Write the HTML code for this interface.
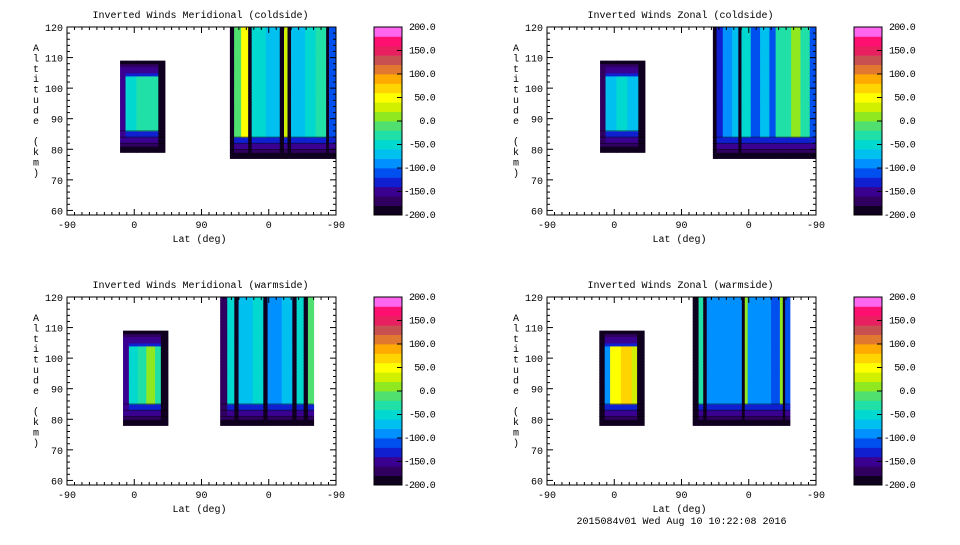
<!DOCTYPE html>
<html><head><meta charset="utf-8"><style>
body{margin:0;background:#fff;width:960px;height:540px;overflow:hidden}
svg text{font-family:"Liberation Mono",monospace;font-size:10px;fill:#000}
svg text.cbl{letter-spacing:-0.8px}
</style></head><body>
<svg id="svg" width="960" height="540"></svg>
<script>
// ---- data ----
const colorBands=["#100020","#300060","#3a0090","#1020d0","#0050f0","#0090ff","#00c0f0","#00d8d0","#20e0a8","#50e070","#90e820","#d0f000","#ffff00","#ffd400","#ffaa00","#e07830","#c85050","#e82060","#ff1070","#ff66f0"];
const cbTicks=[200,150,100,50,0,-50,-100,-150,-200];
const yTicks=[60,70,80,90,100,110,120];
const xTickLabels=["-90","0","90","0","-90"];
const xTickUnits=[0,90,180,270,360];
const bottomRamp=[-195,-185,-172,-160,-148,-135,-122];
const topRamp=[-190,-175,-160,-145,-130];
// panels: blob extents (x units 0..360, alt km), column core values and relative column widths
const tlTitle="Inverted Winds Meridional (coldside)";
const tlBlob1={u0:71,u1:131,a0:79,a1:109,cols:[-150,-50,-40,-30,-200],w:[1,2,2,2,1.2]};
const tlBlob2={u0:218,u1:360,a0:77,a1:120,cols:[-200,-20,40,-200,-60,-80,-200,20,-200,-80,-60,-30,-200,-110],w:[0.6,1,1,0.5,2,2,0.6,0.5,0.5,2,1.5,1.5,0.4,1]};
const trTitle="Inverted Winds Zonal (coldside)";
const trBlob1={u0:71,u1:131,a0:79,a1:109,cols:[-170,-70,-60,-70,-200],w:[1,2,2,2,1.2]};
const trBlob2={u0:222,u1:360,a0:77,a1:120,cols:[-200,-130,-90,-70,-200,-60,-110,-80,-120,-40,-30,10,-40,-110],w:[0.6,1,1.5,1,0.5,1.5,1.5,1.5,1,1.5,1,1.5,1.5,1]};
const blTitle="Inverted Winds Meridional (warmside)";
const blBlob1={u0:75,u1:135,a0:78,a1:109,cols:[-150,-60,-30,10,-40,-200],w:[1,1.5,1.5,1.5,1,1.2]};
const blBlob2={u0:205,u1:330,a0:78,a1:120,cols:[-170,-60,-200,-80,-60,-200,-90,-80,-200,-60,-200,-20],w:[1,1,0.6,2,1.5,0.6,2,1.5,0.6,1,0.6,0.8]};
const brTitle="Inverted Winds Zonal (warmside)";
const brBlob1={u0:70,u1:130,a0:78,a1:109,cols:[-200,-100,40,60,30,-200],w:[1,1,2,2,1,1.3]};
const brBlob2={u0:195,u1:325,a0:78,a1:120,cols:[-200,-30,-200,-90,-100,-90,-200,10,-90,-100,-110,10,-200,-120],w:[1,0.8,0.6,2,2,2,0.5,0.5,2,2,1.5,0.5,0.4,0.8]};

const NS="http://www.w3.org/2000/svg";
const svg=document.getElementById('svg');
function el(tag,attrs,parent){const e=document.createElementNS(NS,tag);for(const k in attrs)e.setAttribute(k,attrs[k]);(parent||svg).appendChild(e);return e;}
function bandColor(v){let i=Math.floor((v+200)/20);i=Math.max(0,Math.min(19,i));return colorBands[i];}

function panel(key,x0,y0,title,b1,b2,footer){
  const W=269,H=188;
  const g=el('g',{});
  
  
  const xs=u=>x0+u/360*W, ys=a=>y0+H-(a-58.5)/(120-58.5)*H;
  const t=el('text',{x:x0+W/2-1,y:y0-9,'text-anchor':'middle'},g);t.textContent=title;
  
  [b1,b2].forEach((b,bi)=>{
    const bg=el('g',{},g);
    
    
    const n=b.cols.length,step=1;
    const tw=b.w.reduce((s,x)=>s+x,0);
    const edges=[b.u0];b.w.forEach(x=>edges.push(edges[edges.length-1]+x/tw*(b.u1-b.u0)));
    const rows=Math.round((b.a1-b.a0)/step);
    for(let c=0;c<n;c++){
      for(let r=0;r<rows;r++){
        let v=b.cols[c];
        if(r<bottomRamp.length)v=Math.min(v,bottomRamp[r]);
        const fromTop=rows-1-r;
        if(b.a1<119&&fromTop<topRamp.length)v=Math.min(v,topRamp[fromTop]);
        const a=b.a0+r*step;
        const rc=el('rect',{x:xs(edges[c]),y:ys(a+step),width:xs(edges[c+1])-xs(edges[c])+0.5,height:ys(a)-ys(a+step)+0.5,fill:bandColor(v)},bg);
        
        
      }
    }
    [3,5,7].forEach(r=>{
      el('line',{x1:xs(b.u0),x2:xs(b.u1),y1:ys(b.a0+r*step),y2:ys(b.a0+r*step),stroke:'#000','stroke-width':0.5},bg);
    });
  });
  const fr=el('rect',{x:x0,y:y0,width:W,height:H,fill:'none',stroke:'#000','stroke-width':1},g);
  
  for(let a=60;a<=120;a+=2){const L=(a%10===0)?6:3;const y=ys(a);
    el('line',{x1:x0,x2:x0+L,y1:y,y2:y,stroke:'#000'},g);el('line',{x1:x0+W-L,x2:x0+W,y1:y,y2:y,stroke:'#000'},g);}
  yTicks.forEach(a=>{const tt=el('text',{x:x0-4,y:ys(a)+4,'text-anchor':'end'},g);tt.textContent=a;
    });
  for(let u=0;u<=360;u+=10){const L=(u%90===0)?6:3;const x=xs(u);
    el('line',{x1:x,x2:x,y1:y0+H-L,y2:y0+H,stroke:'#000'},g);el('line',{x1:x,x2:x,y1:y0,y2:y0+L,stroke:'#000'},g);}
  xTickUnits.forEach((u,i)=>{const tt=el('text',{x:xs(u),y:y0+H+13,'text-anchor':'middle'},g);tt.textContent=xTickLabels[i];
    });
  const xt=el('text',{x:x0+W/2-2,y:y0+H+27,'text-anchor':'middle'},g);xt.textContent="Lat (deg)";
  
  const yt=el('text',{x:x0-31,y:y0+24,'text-anchor':'middle'},g);
  
  "Altitude (km)".split('').forEach((ch,i)=>{const ts=el('tspan',{x:x0-31,dy:i?10.4:0},yt);ts.textContent=ch===' '?'\u00a0':ch;});
  const cx=x0+307,cwid=28;
  const cb=el('g',{},g);
  colorBands.forEach((c,i)=>{const bh=H/20;el('rect',{x:cx,y:y0+H-(i+1)*bh,width:cwid,height:bh+0.4,fill:c},cb);});
  el('rect',{x:cx,y:y0,width:cwid,height:H,fill:'none',stroke:'#000'},cb);
  cbTicks.forEach(v=>{const y=y0+H-(v+200)/400*H;el('line',{x1:cx+cwid-5,x2:cx+cwid,y1:y,y2:y,stroke:'#000'},cb);
    const tt=el('text',{x:cx+61,y:y+3,'text-anchor':'end','class':'cbl'},cb);tt.textContent=v.toFixed(1);
    });
  if(footer){const f=el('text',{x:x0+W/2,y:y0+H+39,'text-anchor':'middle'},g);f.textContent=footer;
    }
}
panel('meridional-coldside',67,27,tlTitle,tlBlob1,tlBlob2);
panel('zonal-coldside',547,27,trTitle,trBlob1,trBlob2);
panel('meridional-warmside',67,297,blTitle,blBlob1,blBlob2);
panel('zonal-warmside',547,297,brTitle,brBlob1,brBlob2,"2015084v01 Wed Aug 10 10:22:08 2016");
</script>
</body></html>
